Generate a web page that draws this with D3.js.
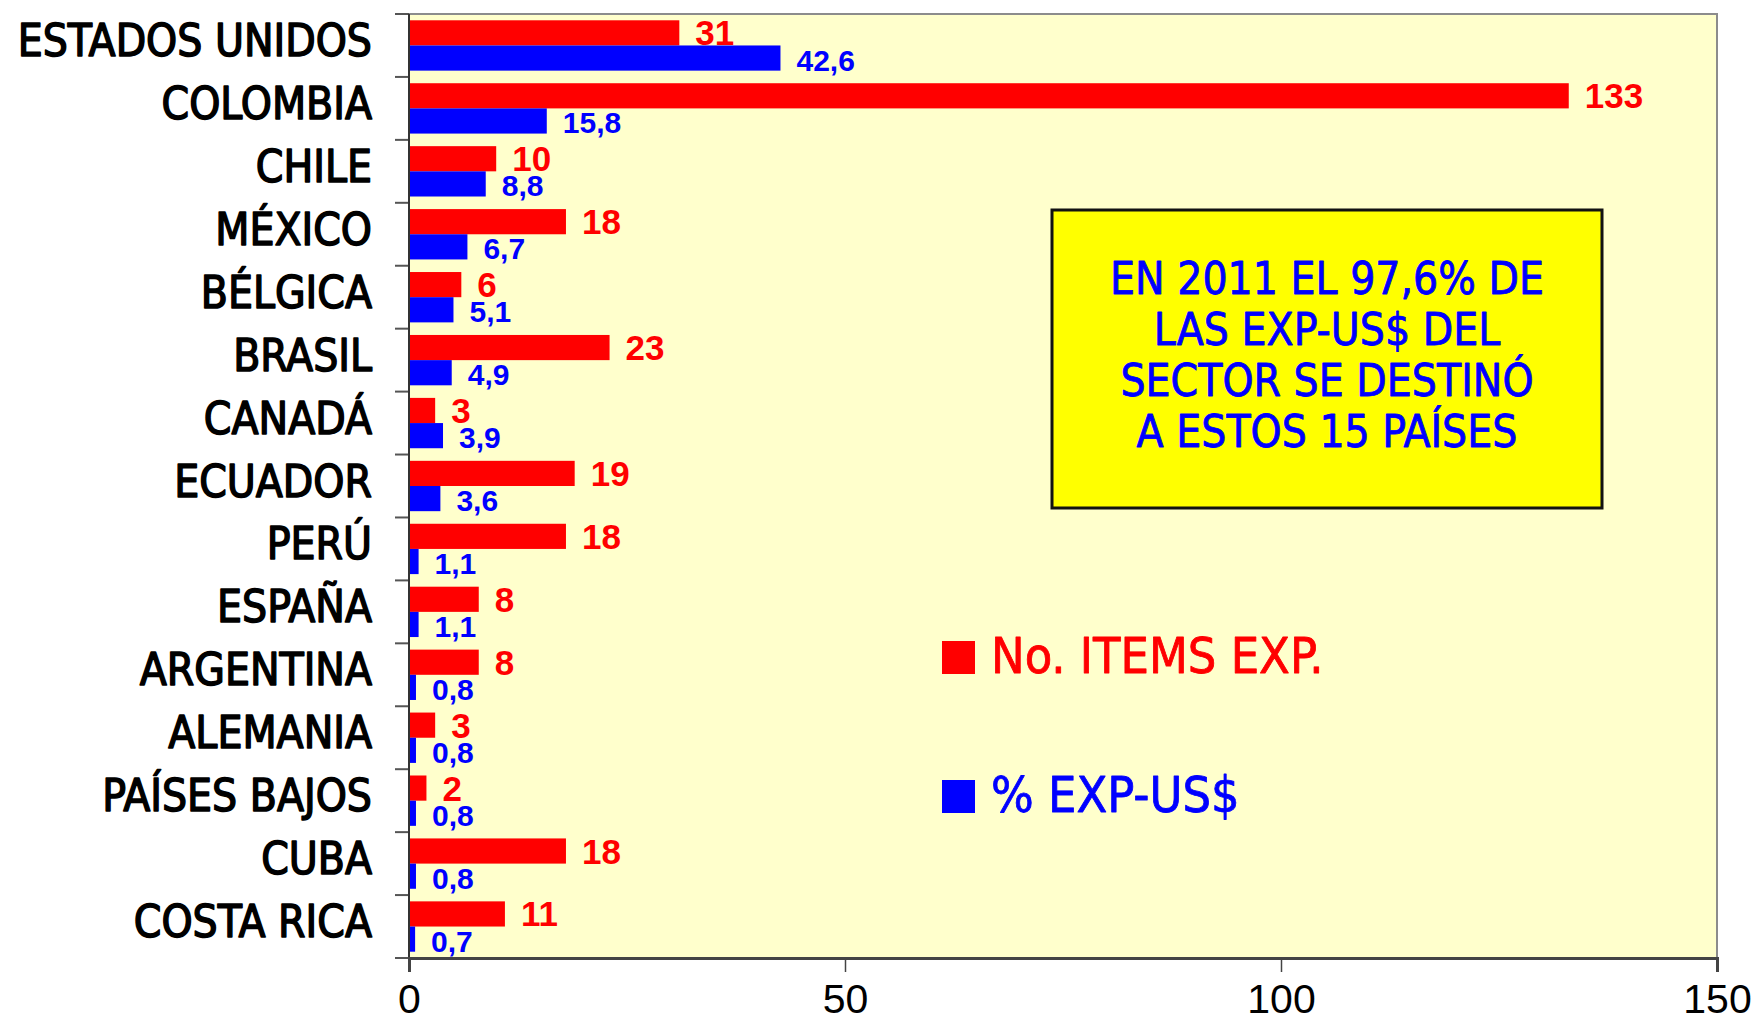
<!DOCTYPE html>
<html>
<head>
<meta charset="utf-8">
<script src="https://cdn.jsdelivr.net/npm/d3@7"></script>
<style>
  html, body { margin: 0; padding: 0; background: #ffffff; }
  svg { display: block; }
  .sans { font-family: 'DejaVu Sans Condensed', 'DejaVu Sans', Verdana, sans-serif; font-stretch: condensed; font-weight: normal; paint-order: stroke; stroke-linejoin: round; }
</style>
</head>
<body>
<svg id="chart" width="1756" height="1031"></svg>
<script>
// Destination countries, top to bottom
const countries = [
  "ESTADOS UNIDOS", "COLOMBIA", "CHILE", "MÉXICO", "BÉLGICA", "BRASIL", "CANADÁ",
  "ECUADOR", "PERÚ", "ESPAÑA", "ARGENTINA", "ALEMANIA", "PAÍSES BAJOS", "CUBA", "COSTA RICA"
];
// Number of exported items per country
const itemsExp = [31, 133, 10, 18, 6, 23, 3, 19, 18, 8, 8, 3, 2, 18, 11];
// Share of export value (US$), percent
const pctExpUS = [42.6, 15.8, 8.8, 6.7, 5.1, 4.9, 3.9, 3.6, 1.1, 1.1, 0.8, 0.8, 0.8, 0.8, 0.7];
// Value axis ticks
const xTicks = [0, 50, 100, 150];

const seriesKeys = ["items", "pct"];
const seriesNames = { items: "No. ITEMS EXP.", pct: "% EXP-US$" };
const seriesColors = { items: "#ff0000", pct: "#0000ff" };
const noteLines = ["EN 2011 EL 97,6% DE", "LAS EXP-US$ DEL", "SECTOR SE DESTINÓ", "A ESTOS 15 PAÍSES"];

const rows = countries.map((c, i) => ({ country: c, items: itemsExp[i], pct: pctExpUS[i] }));

const svg = d3.select("#chart");
const plot = { left: 409, right: 1717, top: 14, bottom: 958 };

const x = d3.scaleLinear().domain([0, 150]).range([plot.left, plot.right]);
const y = d3.scaleBand().domain(countries).range([plot.top, plot.bottom])
  .paddingInner(0.2).paddingOuter(0.1);
const ySub = d3.scaleBand().domain(seriesKeys).range([0, y.bandwidth()]);

const fmt = v => String(v).replace(".", ",");

// Plot background and frame
svg.append("rect")
  .attr("x", plot.left).attr("y", plot.top)
  .attr("width", plot.right - plot.left).attr("height", plot.bottom - plot.top)
  .attr("fill", "#ffffcc").attr("stroke", "#8c8c8c").attr("stroke-width", 2);

// Bars
const groups = svg.append("g").selectAll("g").data(rows).join("g")
  .attr("transform", d => `translate(0,${y(d.country)})`);

groups.selectAll("rect").data(d => seriesKeys.map(k => ({ key: k, value: d[k] }))).join("rect")
  .attr("x", x(0))
  .attr("y", d => ySub(d.key))
  .attr("width", d => x(d.value) - x(0))
  .attr("height", ySub.bandwidth())
  .attr("fill", d => seriesColors[d.key]);

// Value labels
groups.selectAll("text").data(d => seriesKeys.map(k => ({ key: k, value: d[k] }))).join("text")
  .attr("x", d => x(d.value) + 16)
  .attr("y", d => ySub(d.key) + ySub.bandwidth() / 2 + (d.key === "items" ? 0 : 2))
  .attr("dominant-baseline", "central")
  .attr("font-family", "'Liberation Sans', Arial, sans-serif")
  .attr("font-weight", "bold")
  .attr("font-size", d => d.key === "items" ? 35 : 30)
  .attr("fill", d => seriesColors[d.key])
  .text(d => fmt(d.value));

// Category axis (left)
const yAxisG = svg.append("g");
const step = y.step();
const boundaries = countries.map(c => y(c) - step * y.paddingInner() / 2)
  .concat([y(countries[countries.length - 1]) + y.bandwidth() + step * y.paddingInner() / 2]);
yAxisG.selectAll("line.tick").data(boundaries).join("line")
  .attr("class", "tick")
  .attr("x1", plot.left - 14).attr("x2", plot.left)
  .attr("y1", d => d).attr("y2", d => d)
  .attr("stroke", "#555").attr("stroke-width", 2);
yAxisG.append("line")
  .attr("x1", plot.left).attr("x2", plot.left)
  .attr("y1", plot.top).attr("y2", plot.bottom)
  .attr("stroke", "#333").attr("stroke-width", 2);
yAxisG.selectAll("text").data(countries).join("text")
  .attr("class", "sans")
  .attr("x", plot.left - 37)
  .attr("y", d => y(d) + y.bandwidth() / 2 - 5)
  .attr("text-anchor", "end")
  .attr("dominant-baseline", "central")
  .attr("font-size", 44)
  .attr("fill", "#000")
  .attr("stroke", "#000").attr("stroke-width", 1.4)
  .text(d => d);

// Value axis (bottom)
const xAxis = d3.axisBottom(x).tickValues(xTicks).tickSize(14).tickPadding(12)
  .tickFormat(d3.format("d"));
const xAxisG = svg.append("g").attr("transform", `translate(0,${plot.bottom})`).call(xAxis);
xAxisG.select(".domain").attr("stroke", "#444").attr("stroke-width", 3);
xAxisG.selectAll(".tick line").attr("stroke", "#444").attr("stroke-width", 1.5);
xAxisG.selectAll(".tick text")
  .attr("font-family", "'Liberation Sans', Arial, sans-serif")
  .attr("font-size", 41)
  .attr("fill", "#000");

// Note box
const box = { x: 1052, y: 210, w: 550, h: 298 };
svg.append("rect")
  .attr("x", box.x).attr("y", box.y).attr("width", box.w).attr("height", box.h)
  .attr("fill", "#ffff00").attr("stroke", "#111").attr("stroke-width", 3);
svg.append("g").selectAll("text").data(noteLines).join("text")
  .attr("class", "sans")
  .attr("x", box.x + box.w / 2)
  .attr("y", (d, i) => 278 + i * 51)
  .attr("text-anchor", "middle")
  .attr("dominant-baseline", "central")
  .attr("font-size", 44)
  .attr("fill", "#0000ff")
  .attr("stroke", "#0000ff").attr("stroke-width", 0.8)
  .text(d => d);

// Legend
const legend = svg.append("g").selectAll("g").data(seriesKeys).join("g")
  .attr("transform", (d, i) => `translate(942,${641 + i * 139})`);
legend.append("rect")
  .attr("width", 33).attr("height", 33)
  .attr("fill", d => seriesColors[d]);
legend.append("text")
  .attr("class", "sans")
  .attr("x", 49).attr("y", 15)
  .attr("dominant-baseline", "central")
  .attr("font-size", 50)
  .attr("fill", d => seriesColors[d])
  .attr("stroke", d => seriesColors[d]).attr("stroke-width", 0.8)
  .text(d => seriesNames[d]);
</script>
</body>
</html>
